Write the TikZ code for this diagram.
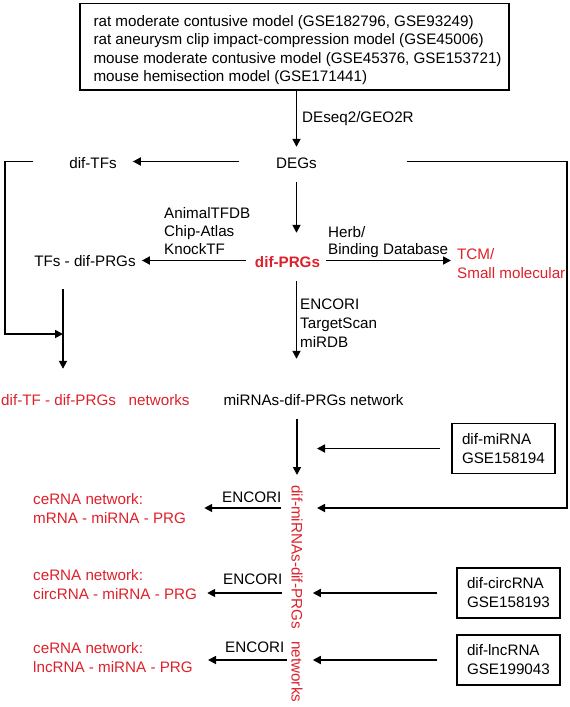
\documentclass[tikz,border=0pt]{standalone}
\usepackage{fontspec}
\setmainfont{Liberation Sans}
\usepackage{tikz}
\usetikzlibrary{positioning,arrows.meta}
\definecolor{netred}{RGB}{222,32,42}

\begin{document}
\begin{tikzpicture}[
  x=1pt, y=1pt,
  txt/.style={inner sep=0pt, text height=13pt, text depth=0pt, font=\fontsize{15.2}{18.5}\selectfont},
  multi/.style={inner sep=0pt, align=left, font=\fontsize{15.2}{#1}\selectfont},
  multi/.default=18.5,
  dbox/.style={draw, line width=1.5pt, align=left, inner xsep=10pt, text width=83pt, minimum height=50pt, font=\fontsize{15.2}{19}\selectfont},
  arr/.style={-{Triangle[length=8pt,width=8pt]}, line width=1.7pt}
]
\useasboundingbox (0,0) rectangle (570,-707);

% datasets (multi-line nodes sit on the baseline of their last line)
\node[draw, line width=1.5pt, inner sep=0pt, minimum width=428.7pt, minimum height=86.6pt, anchor=north west] (data) at (79.3,-2.7) {};
\node[multi, anchor=base west] (datatext) at (93.3,-81.5) {rat moderate contusive model (GSE182796, GSE93249)\\rat aneurysm clip impact-compression model (GSE45006)\\mouse moderate contusive model (GSE45376, GSE153721)\\mouse hemisection model (GSE171441)};

\node[txt, anchor=base west] (deseq) at (302,-122) {DEseq2/GEO2R};
\node[txt, anchor=base] (degs) at (296.5,-168) {DEGs};
\node[txt, anchor=base] (diftfs) at (93,-168) {dif-TFs};

\node[multi=18, anchor=base west] (tfdb) at (164,-254) {AnimalTFDB\\Chip-Atlas\\KnockTF};
\node[multi=17, anchor=base west] (herb) at (328,-254) {Herb/\\Binding Database};
\node[txt, anchor=base, text=netred, font=\fontsize{15.2}{18.5}\selectfont\bfseries] (difprgs) at (287.5,-267) {dif-PRGs};
\node[txt, anchor=base] (tfsprg) at (85,-266) {TFs - dif-PRGs};
\node[multi=19, anchor=base west, text=netred] (tcm) at (457,-278) {TCM/\\Small molecular};
\node[multi=19, anchor=base west] (mirdb) at (300,-347) {ENCORI\\TargetScan\\miRDB};

\node[txt, anchor=base west, text=netred] (tfnet) at (1,-405) {dif-TF - dif-PRGs\ \ \ networks};
\node[txt, anchor=base] (mirnw) at (313.5,-405) {miRNAs-dif-PRGs network};
\coordinate (tfjoin) at (63,-334);
\coordinate (hubin) at (317,-508);

\node[inner sep=0pt, rotate=-90, anchor=west, text=netred, font=\fontsize{15.2}{18.5}\selectfont] (mirnet) at (297,-485) {dif-miRNAs-dif-PRGs\ \ \ networks};

% sequencing boxes
\node[dbox] (mirbox) at (503.5,-448.5) {dif-miRNA\\GSE158194};
\node[dbox] (circbox) at (508.5,-593) {dif-circRNA\\GSE158193};
\node[dbox] (lncbox) at (508.5,-660) {dif-lncRNA\\GSE199043};

% ceRNA networks
\node[multi=19, anchor=base west, text=netred] (cer1) at (33,-523) {ceRNA network:\\mRNA - miRNA - PRG};
\node[multi=19, anchor=base west, text=netred] (cer2) at (33,-599) {ceRNA network:\\circRNA - miRNA - PRG};
\node[multi=19, anchor=base west, text=netred] (cer3) at (33,-672) {ceRNA network:\\lncRNA - miRNA - PRG};
\node[txt, anchor=base west] (enc1) at (222,-502) {ENCORI};
\node[txt, anchor=base west] (enc2) at (223,-584) {ENCORI};
\node[txt, anchor=base west] (enc3) at (225,-652) {ENCORI};

% connectors
\draw[arr, shorten >=8pt] (data.south -| degs) -- (degs.north);
\draw[arr, shorten <=37pt, shorten >=16pt] (degs.west) -- (diftfs.east);
\draw[arr] ([xshift=-36pt]diftfs.west) -- ++(-28,0) |- (tfjoin);
\draw[arr] ([xshift=90pt]degs.east) -- ++(160,0) |- (hubin);
\draw[arr, shorten <=14pt, shorten >=21pt] (degs.south) -- (degs.south |- difprgs.north);
\draw[arr, shorten <=9pt, shorten >=6pt] (difprgs.west) -- (difprgs.west -| tfsprg.east);
\draw[arr, shorten <=6pt, shorten >=6pt] (difprgs.east) -- (difprgs.east -| tcm.west);
\draw[arr, shorten <=23pt, shorten >=23pt] (tfsprg.south -| tfjoin) -- (tfnet.north -| tfjoin);
\draw[arr, shorten <=14pt, shorten >=33pt] (degs.south |- difprgs.south) -- (degs.south |- mirnw.north);
\draw[arr, shorten <=14pt, shorten >=10pt] (mirnw.south -| mirnet.west) -- (mirnet.west);
\draw[arr, shorten <=11pt, shorten >=20pt] (mirbox.west) -- (mirbox.west -| mirnet.west);
\draw[arr, shorten <=19pt, shorten >=10pt] (circbox.west) -- (circbox.west -| mirnet.north);
\draw[arr, shorten <=19pt, shorten >=10pt] (lncbox.west) -- (lncbox.west -| mirnet.north);
\draw[arr, shorten <=10pt, shorten >=18pt] (hubin -| mirnet.south) -- (hubin -| cer1.east);
\draw[arr, shorten <=9.5pt, shorten >=10pt] (circbox.west -| mirnet.south) -- (circbox.west -| cer2.east);
\draw[arr, shorten <=4.5pt, shorten >=15pt] (lncbox.west -| mirnet.south) -- (lncbox.west -| cer3.east);
\end{tikzpicture}
\end{document}
